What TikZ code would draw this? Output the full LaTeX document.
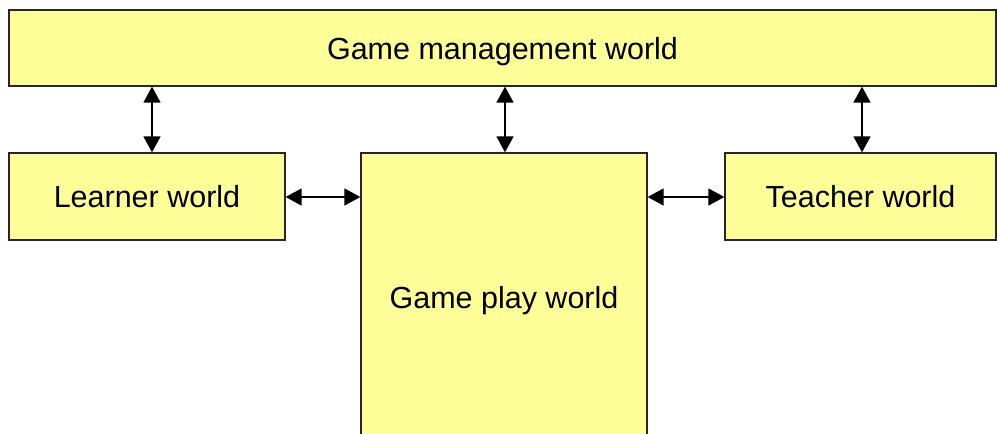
\documentclass[tikz,border=0pt]{standalone}
\usepackage{fontspec}
\setmainfont{Liberation Sans}
\usetikzlibrary{arrows.meta}
\definecolor{boxyellow}{HTML}{FFFF99}
\newcommand{\wtext}[1]{\raisebox{-11pt}[0pt][0pt]{#1}}
\begin{document}
\begin{tikzpicture}[x=1pt,y=-1pt,
  world/.style={draw=black!85, line width=1.3pt, fill=boxyellow, rectangle, inner sep=0pt, font=\fontsize{30.5}{36}\selectfont},
  link/.style={line width=1.5pt, {Triangle[length=16pt,width=17pt]}-{Triangle[length=16pt,width=17pt]}}]
\useasboundingbox (0,0) rectangle (997,434);
\node[world, minimum width=987pt, minimum height=76pt] (gm) at (502.5,48) {\wtext{Game management world}};
\node[world, minimum width=276pt, minimum height=87pt] (lw) at (147,196.5) {\wtext{Learner world}};
\node[world, minimum width=286pt, minimum height=288pt] (gp) at (504,297) {\wtext{Game play world}};
\node[world, minimum width=271pt, minimum height=87pt] (tw) at (860.5,196.5) {\wtext{Teacher world}};
\draw[link] (gm.south -| 152,0) -- (lw.north -| 152,0);
\draw[link] (gm.south -| 505,0) -- (gp.north -| 505,0);
\draw[link] (gm.south -| 862,0) -- (tw.north -| 862,0);
\draw[link] (lw.east |- 0,197) -- (gp.west |- 0,197);
\draw[link] (gp.east |- 0,197) -- (tw.west |- 0,197);
\end{tikzpicture}
\end{document}
